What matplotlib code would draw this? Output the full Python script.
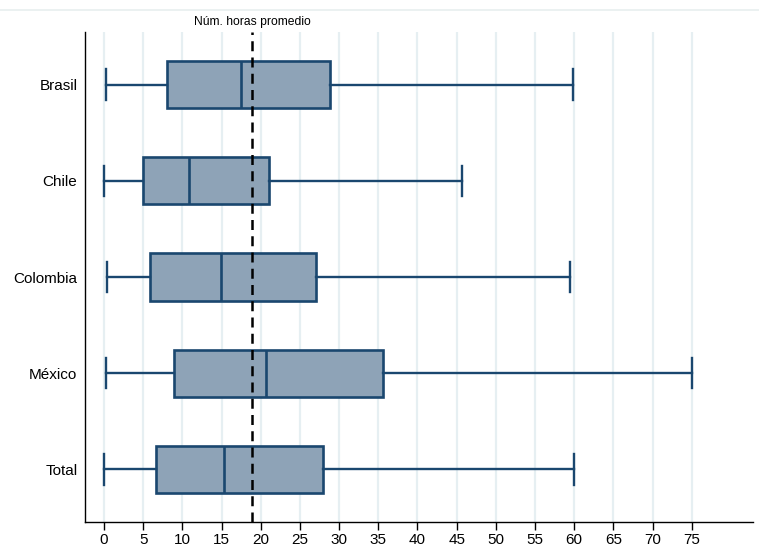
import matplotlib.pyplot as plt
import matplotlib.lines as mlines

plt.rcParams['font.family'] = ['Liberation Sans', 'DejaVu Sans']

# Distribution of weekly hours per country (box stats)
countries = ['Brasil', 'Chile', 'Colombia', 'México', 'Total']
whisker_low = [0.3, 0.0, 0.4, 0.3, 0.0]
q1 = [8.1, 5.0, 5.9, 8.9, 6.6]
median = [17.5, 10.9, 14.9, 20.7, 15.3]
q3 = [28.8, 21.1, 27.1, 35.6, 28.0]
whisker_high = [59.8, 45.7, 59.4, 75.0, 60.0]
mean_hours = 18.9
xticks = list(range(0, 80, 5))

navy = '#1a476f'
fill = '#8ea3b7'
grid_col = '#e6eff2'

stats = []
for i in range(len(countries)):
    stats.append({'label': countries[i], 'whislo': whisker_low[i], 'q1': q1[i],
                  'med': median[i], 'q3': q3[i], 'whishi': whisker_high[i], 'fliers': []})

fig = plt.figure(figsize=(7.59, 5.5), dpi=100)
ax = fig.add_axes([0.112, 0.0509, 0.880, 0.8909])

# light vertical grid at every tick
for t in xticks:
    ax.axvline(t, color=grid_col, lw=1.6, zorder=0)

positions = list(range(1, len(countries) + 1))
ax.bxp(stats, positions=positions, vert=False, widths=0.49, patch_artist=True,
       showfliers=False,
       boxprops=dict(facecolor=fill, edgecolor=navy, linewidth=1.9),
       medianprops=dict(color=navy, linewidth=1.9),
       whiskerprops=dict(color=navy, linewidth=1.7),
       capprops=dict(color=navy, linewidth=1.7),
       capwidths=0.32, zorder=2)

# mean line with its label
ax.axvline(mean_hours, color='black', lw=1.8, ls=(0, (4, 2.5)), zorder=3)
ax.text(mean_hours, 1.008, 'Núm. horas promedio', transform=ax.get_xaxis_transform(),
        ha='center', va='bottom', fontsize=8.7)

ax.set_xlim(-2.42, 82.8)
ax.set_ylim(5.55, 0.45)
ax.set_xticks(xticks)
ax.set_yticks(positions)
ax.set_yticklabels(countries)
ax.tick_params(axis='x', length=5.5, width=1, labelsize=11, pad=2.5)
ax.tick_params(axis='y', length=0, labelsize=11, pad=5.5)
ax.spines['top'].set_visible(False)
ax.spines['right'].set_visible(False)
ax.spines['left'].set_linewidth(1.0)
ax.spines['bottom'].set_linewidth(1.0)

# thin border line along the top of the figure
fig.add_artist(mlines.Line2D([0, 1], [1 - 10 / 550, 1 - 10 / 550], color='#e8efef', lw=1.2))

fig.savefig('out.png', dpi=100)
